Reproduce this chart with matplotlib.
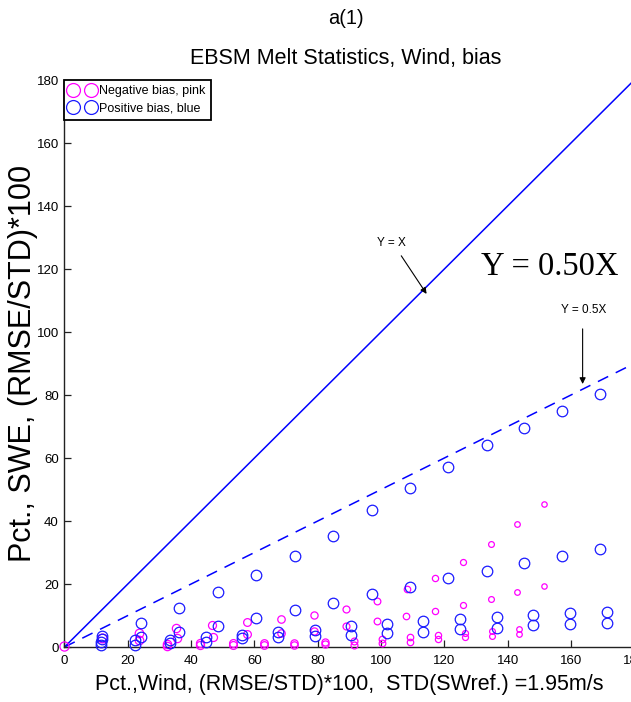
import matplotlib
matplotlib.use("Agg")
import matplotlib.pyplot as plt
import matplotlib.font_manager as fm
from matplotlib.lines import Line2D
import numpy as np

# ---------------- data ----------------
line_x = [0, 180]

blue_upper_x = [11.8, 24.2, 36.2, 48.5, 60.5, 72.8, 84.8, 97.2, 109.2, 121.2, 133.5, 145.2, 157.2, 169.2]
blue_upper_y = [3.5, 7.6, 12.4, 17.5, 22.9, 28.9, 35.2, 43.5, 50.5, 57.1, 64.1, 69.5, 74.9, 80.3]

blue_mid_x = [11.8, 24.2, 36.2, 48.5, 60.5, 72.8, 84.8, 97.2, 109.2, 121.2, 133.5, 145.2, 157.2, 169.2]
blue_mid_y = [2.5, 3.2, 4.8, 6.7, 9.2, 11.7, 14.0, 16.8, 19.0, 21.9, 24.1, 26.7, 28.9, 31.1]

blue_low_x = [11.5, 22.3, 33.3, 44.7, 56.1, 67.5, 79.1, 90.5, 101.9, 113.3, 124.9, 136.6, 148.0, 159.7, 171.4]
blue_low_y1 = [1.7, 2.2, 2.2, 3.3, 3.8, 4.9, 5.4, 6.7, 7.2, 8.3, 8.9, 9.6, 10.2, 10.8, 11.0]
blue_low_y2 = [0.6, 0.6, 1.3, 1.7, 2.8, 3.1, 3.5, 3.8, 4.4, 4.9, 5.6, 6.1, 7.0, 7.3, 7.5]

pink_a_x = [0, 11.8, 23.5, 35.2, 46.6, 57.7, 68.4, 78.8, 88.9, 98.7, 108.2, 117.0, 125.9, 134.7, 143.0, 151.5]
pink_a_y = [0.3, 2.9, 4.4, 6.0, 7.0, 7.9, 8.9, 10.2, 12.1, 14.6, 18.4, 21.9, 27.0, 32.7, 39.0, 45.4]

pink_b_x = [23.5, 35.5, 46.9, 57.7, 68.4, 78.8, 88.9, 98.7, 107.9, 117.0, 125.9, 134.7, 143.0, 151.5]
pink_b_y = [2.2, 2.9, 3.2, 4.1, 4.4, 5.1, 6.7, 8.3, 9.8, 11.4, 13.3, 15.2, 17.5, 19.4]

pink_c_x = [32.4, 42.8, 53.2, 63.0, 72.5, 82.3, 91.5, 100.3, 109.2, 118.0, 126.5, 135.1, 143.6]
pink_c_y1 = [1.0, 1.2, 1.4, 1.4, 1.4, 1.7, 2.0, 2.5, 3.1, 3.8, 4.6, 5.1, 5.7]
pink_c_y2 = [0.4, 0.5, 0.6, 0.7, 0.8, 1.0, 0.6, 1.2, 1.7, 2.5, 3.1, 3.6, 4.1]

ticks = [0, 20, 40, 60, 80, 100, 120, 140, 160, 180]
legend_labels = ["Negative bias, pink", "Positive bias, blue"]
title_lines = ["a(1)", "EBSM Melt Statistics, Wind, bias"]
xlabel = "Pct.,Wind, (RMSE/STD)*100,  STD(SWref.) =1.95m/s"
ylabel = "Pct., SWE, (RMSE/STD)*100"

# ---------------- fonts ----------------
names = {f.name for f in fm.fontManager.ttflist}
NARROW = "Liberation Sans Narrow" in names
if NARROW:
    cfam = ["Liberation Sans Narrow", "DejaVu Sans"]
    f_title, f_lab, f_tick, f_leg, f_ann = 19.4, 19, 11.8, 11, 10.5
else:
    cfam = ["Liberation Sans", "DejaVu Sans"]
    f_title, f_lab, f_tick, f_leg, f_ann = 15.5, 15.5, 9.5, 9, 8.5
rfam = ["Liberation Sans", "DejaVu Sans"]
plt.rcParams["font.family"] = cfam

BLUE = "#1a1aff"
PINK = "#ff00ff"

fig = plt.figure(figsize=(6.31, 7.02), dpi=100)
ax = fig.add_axes([0.1022, 0.0783, 0.9029, 0.8077])

# reference lines
lx = np.array(line_x, dtype=float)
ax.plot(lx, lx, color="#0000ff", lw=1.1, zorder=2)
ax.plot(lx, 0.5 * lx, color="#0000ff", lw=1.1, dashes=(7.5, 5.5), zorder=2)


def pink_ms(x):
    return 6.6 - 0.018 * np.asarray(x, dtype=float)


def pink(xs, ys):
    xs = np.asarray(xs, float)
    ys = np.asarray(ys, float)
    for xv, yv, m in zip(xs, ys, pink_ms(xs)):
        ax.plot([xv], [yv], ls="none", marker="o", ms=m, mfc="none",
                mec=PINK, mew=0.9, zorder=3, clip_on=False)


def blue(xs, ys):
    ax.plot(xs, ys, ls="none", marker="o", ms=7.6, mfc="none",
            mec=BLUE, mew=0.9, zorder=4, clip_on=False)


pink(pink_a_x, pink_a_y)
pink(pink_b_x, pink_b_y)
pink(pink_c_x, pink_c_y1)
pink(pink_c_x, pink_c_y2)
blue(blue_upper_x, blue_upper_y)
blue(blue_mid_x, blue_mid_y)
blue(blue_low_x, blue_low_y1)
blue(blue_low_x, blue_low_y2)

ax.set_xlim(0, 180)
ax.set_ylim(0, 180)
ax.set_xticks(ticks)
ax.set_yticks(ticks)
ax.set_xticklabels([str(t) for t in ticks], fontsize=f_tick)
ax.set_yticklabels([str(t) for t in ticks], fontsize=f_tick)
ax.tick_params(direction="in", length=5, width=0.9, color="#222222")
ax.tick_params(axis="x", pad=6)
ax.tick_params(axis="y", pad=4)
for s in ("top", "right"):
    ax.spines[s].set_visible(False)
for s in ("left", "bottom"):
    ax.spines[s].set_linewidth(1.0)
    ax.spines[s].set_color("#222222")

ax.set_xlabel(xlabel, fontsize=f_lab, labelpad=5)
ax.set_ylabel(ylabel, fontsize=22, family=rfam, labelpad=-1)

fig.text(0.548, 0.974, title_lines[0], ha="center", va="center", fontsize=f_title - 1)
fig.text(0.548, 0.917, title_lines[1], ha="center", va="center", fontsize=f_title)

# annotations
ax.text(131.6, 118.2, "Y = 0.50X", family=["Liberation Serif", "DejaVu Serif"],
        fontsize=23.5, ha="left", va="baseline")
ax.text(103.2, 128.4, "Y = X", fontsize=f_ann, ha="center", va="center")
ax.annotate("", xy=(114.4, 112.1), xytext=(106.4, 124.2),
            arrowprops=dict(arrowstyle="-|>", color="black", lw=0.8,
                            mutation_scale=9, shrinkA=0, shrinkB=0))
ax.text(164.1, 107.0, "Y = 0.5X", fontsize=f_ann, ha="center", va="center")
ax.annotate("", xy=(163.7, 83.5), xytext=(163.7, 101.0),
            arrowprops=dict(arrowstyle="-|>", color="black", lw=0.8,
                            mutation_scale=9, shrinkA=0, shrinkB=0))

# legend
handles = [
    Line2D([], [], ls="none", marker="o", ms=10, mfc="none", mec=PINK, mew=0.9),
    Line2D([], [], ls="none", marker="o", ms=10, mfc="none", mec=BLUE, mew=0.9),
]
leg = ax.legend(handles, legend_labels, loc="upper left", bbox_to_anchor=(0, 1),
                borderaxespad=0, numpoints=2, fontsize=f_leg, fancybox=False,
                handlelength=2.0, handletextpad=0.4, borderpad=0.4,
                labelspacing=0.45, framealpha=1)
leg.get_frame().set_edgecolor("black")
leg.get_frame().set_linewidth(1.3)

fig.savefig("out.png", dpi=100)
